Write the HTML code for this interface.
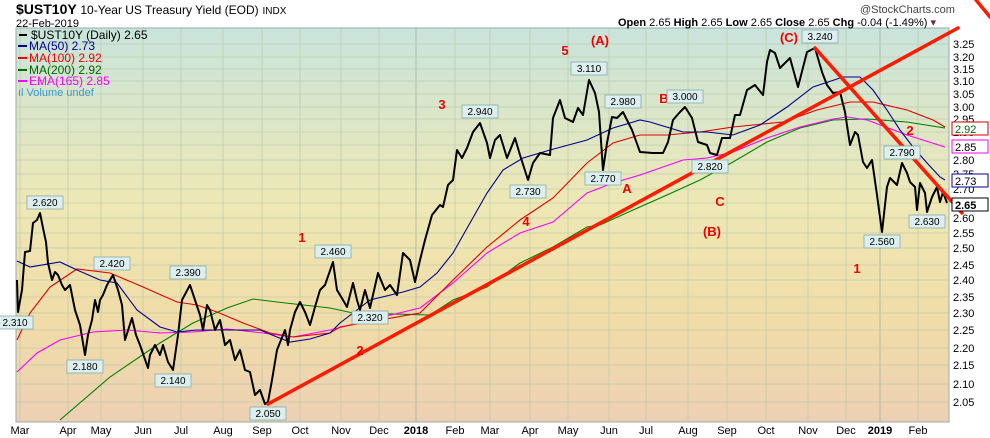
<!DOCTYPE html><html><head><meta charset="utf-8"><style>body{margin:0;background:#fff}svg{display:block;font-family:"Liberation Sans",sans-serif}</style></head><body>
<svg width="990" height="438" viewBox="0 0 990 438">
<defs><linearGradient id="bg" x1="0" y1="0" x2="0" y2="1"><stop offset="0" stop-color="#c9e4dc"/><stop offset="0.45" stop-color="#eee8b4"/><stop offset="0.75" stop-color="#f0dca8"/><stop offset="1" stop-color="#edd0b4"/></linearGradient></defs>
<rect x="16" y="28" width="933" height="394" fill="url(#bg)" stroke="#9aa" stroke-width="1"/>
<g stroke="#b9c7a8" stroke-width="0.8" opacity="0.8">
<line x1="20" y1="28" x2="20" y2="422"/><line x1="68" y1="28" x2="68" y2="422"/><line x1="101" y1="28" x2="101" y2="422"/><line x1="143" y1="28" x2="143" y2="422"/><line x1="181" y1="28" x2="181" y2="422"/><line x1="223" y1="28" x2="223" y2="422"/><line x1="262" y1="28" x2="262" y2="422"/><line x1="300" y1="28" x2="300" y2="422"/><line x1="341" y1="28" x2="341" y2="422"/><line x1="379" y1="28" x2="379" y2="422"/><line x1="416" y1="28" x2="416" y2="422" stroke="#9aa89a"/><line x1="455" y1="28" x2="455" y2="422"/><line x1="490" y1="28" x2="490" y2="422"/><line x1="530" y1="28" x2="530" y2="422"/><line x1="568" y1="28" x2="568" y2="422"/><line x1="609" y1="28" x2="609" y2="422"/><line x1="646" y1="28" x2="646" y2="422"/><line x1="688" y1="28" x2="688" y2="422"/><line x1="727" y1="28" x2="727" y2="422"/><line x1="766" y1="28" x2="766" y2="422"/><line x1="808" y1="28" x2="808" y2="422"/><line x1="846" y1="28" x2="846" y2="422"/><line x1="880" y1="28" x2="880" y2="422" stroke="#9aa89a"/><line x1="918" y1="28" x2="918" y2="422"/>
<line x1="16" y1="44" x2="949" y2="44"/><line x1="16" y1="57" x2="949" y2="57"/><line x1="16" y1="69" x2="949" y2="69"/><line x1="16" y1="81" x2="949" y2="81"/><line x1="16" y1="94" x2="949" y2="94"/><line x1="16" y1="107" x2="949" y2="107"/><line x1="16" y1="119" x2="949" y2="119"/><line x1="16" y1="132" x2="949" y2="132"/><line x1="16" y1="145" x2="949" y2="145"/><line x1="16" y1="160" x2="949" y2="160"/><line x1="16" y1="174" x2="949" y2="174"/><line x1="16" y1="189" x2="949" y2="189"/><line x1="16" y1="203" x2="949" y2="203"/><line x1="16" y1="218" x2="949" y2="218"/><line x1="16" y1="233" x2="949" y2="233"/><line x1="16" y1="248" x2="949" y2="248"/><line x1="16" y1="265" x2="949" y2="265"/><line x1="16" y1="280" x2="949" y2="280"/><line x1="16" y1="297" x2="949" y2="297"/><line x1="16" y1="313" x2="949" y2="313"/><line x1="16" y1="330" x2="949" y2="330"/><line x1="16" y1="348" x2="949" y2="348"/><line x1="16" y1="365" x2="949" y2="365"/><line x1="16" y1="384" x2="949" y2="384"/><line x1="16" y1="402" x2="949" y2="402"/>
</g>
<g fill="none" stroke-width="1.1">
<polyline stroke="#008000" points="60,420 110,377 160,343 193,323 227,308 253,299 277,302 330,308 353,313 430,315 453,300 487,287 520,263 553,247 587,227 600,225 633,210 667,195 700,180 733,162 767,142 800,128 833,120 867,119 907,122 945,128"/>
<polyline stroke="#ff00ff" points="17,372 37,353 60,340 93,332 127,330 160,333 193,332 227,329 263,333 293,337 330,330 370,320 420,308 453,283 487,253 520,233 553,222 587,193 613,183 640,175 683,160 707,158 733,152 767,138 800,127 833,119 847,117 867,120 907,135 945,147"/>
<polyline stroke="#e00000" points="17,340 30,313 50,287 77,269 110,273 143,287 177,302 197,305 217,312 243,323 270,333 293,337 330,333 340,327 420,313 453,280 487,247 520,220 553,198 587,163 613,143 640,135 667,135 700,132 733,127 783,122 817,110 850,102 873,102 907,110 933,120 945,127"/>
<polyline stroke="#000090" points="17,261 30,267 60,262 77,270 100,280 117,283 137,310 160,327 177,332 197,330 227,330 260,330 277,337 290,342 310,339 330,333 340,323 370,300 403,292 420,287 437,273 453,253 470,223 487,193 503,170 523,158 550,150 587,140 613,128 640,120 650,122 683,132 707,132 733,135 760,125 787,107 813,87 843,77 860,77 873,90 887,110 900,130 913,147 927,163 940,177 945,180"/>
</g>
<polyline fill="none" stroke="#000" stroke-width="2" stroke-linejoin="round" points="17,280 18,312 22,290 25,252 30,251 33,223 37,220 40,213 43,228 46,242 48,263 52,280 55,272 58,275 62,285 65,290 70,285 75,310 80,325 85,355 88,335 92,320 95,300 98,312 100,300 103,295 107,285 113,275 118,290 122,305 125,340 132,318 136,335 140,345 148,368 150,355 155,345 160,355 163,345 168,362 173,370 178,335 182,300 190,285 195,300 200,315 203,330 207,305 210,310 215,330 220,320 225,345 230,340 235,360 240,350 245,370 250,372 255,395 260,390 265,404 268,402 272,380 277,350 283,335 285,330 288,345 290,330 295,312 300,302 305,312 310,325 315,307 320,290 325,285 333,262 337,290 343,300 347,307 353,283 357,300 360,310 365,290 370,308 378,273 385,290 390,285 397,295 403,253 410,260 415,282 420,260 425,240 432,215 440,205 443,207 448,185 453,180 457,150 462,158 467,148 473,132 480,123 487,143 490,158 495,140 500,135 507,158 515,138 520,155 528,180 533,163 540,153 550,155 553,118 560,100 565,118 573,122 578,108 583,115 589,80 595,93 599,112 603,170 607,143 612,117 617,118 623,112 632,130 640,152 653,153 663,153 668,142 673,120 680,112 685,107 692,118 698,142 707,145 710,153 717,155 722,138 730,138 735,115 740,115 747,90 755,85 763,95 767,62 770,50 775,53 780,68 790,58 798,87 807,52 815,48 822,72 827,85 833,93 840,92 845,112 850,145 855,132 858,135 863,162 867,168 872,160 877,195 882,232 887,187 890,178 897,185 902,163 907,173 910,182 915,187 917,210 920,183 925,193 927,212 932,197 937,187 940,202 943,192 947,203"/>
<g stroke="#ff1a00" stroke-width="3.5" stroke-linecap="round">
<line x1="268" y1="404" x2="958" y2="28"/><line x1="815" y1="48" x2="962" y2="213"/><line x1="976" y1="0" x2="990" y2="17"/></g>
<g font-size="13" font-weight="bold" fill="#f00000" text-anchor="middle">
<text x="565" y="55">5</text><text x="600" y="45">(A)</text><text x="442" y="109">3</text><text x="302" y="242">1</text><text x="360" y="355">2</text><text x="526" y="226">4</text><text x="627" y="193">A</text><text x="664" y="103">B</text><text x="720" y="206">C</text><text x="712" y="236">(B)</text><text x="789" y="42">(C)</text><text x="857" y="273">1</text><text x="910" y="135">2</text></g>
<g font-size="10" text-anchor="middle">
<g fill="#ddeeee" stroke="#8aa" stroke-width="0.8">
<rect x="27" y="196" width="36" height="13"/><rect x="94" y="257" width="36" height="13"/><rect x="-3" y="316" width="36" height="13"/><rect x="67" y="360" width="36" height="13"/><rect x="170" y="266" width="36" height="13"/><rect x="155" y="374" width="36" height="13"/><rect x="250" y="407" width="36" height="13"/><rect x="315" y="245" width="36" height="13"/><rect x="352" y="311" width="36" height="13"/><rect x="462" y="105" width="36" height="13"/><rect x="510" y="185" width="36" height="13"/><rect x="571" y="62" width="36" height="13"/><rect x="585" y="172" width="36" height="13"/><rect x="605" y="95" width="36" height="13"/><rect x="667" y="90" width="36" height="13"/><rect x="692" y="160" width="36" height="13"/><rect x="802" y="30" width="36" height="13"/><rect x="884" y="146" width="36" height="13"/><rect x="864" y="235" width="36" height="13"/><rect x="909" y="215" width="36" height="13"/></g>
<g fill="#000">
<text x="45" y="206">2.620</text><text x="112" y="267">2.420</text><text x="15" y="326">2.310</text><text x="85" y="370">2.180</text><text x="188" y="276">2.390</text><text x="173" y="384">2.140</text><text x="268" y="417">2.050</text><text x="333" y="255">2.460</text><text x="370" y="321">2.320</text><text x="480" y="115">2.940</text><text x="528" y="195">2.730</text><text x="589" y="72">3.110</text><text x="603" y="182">2.770</text><text x="623" y="105">2.980</text><text x="685" y="100">3.000</text><text x="710" y="170">2.820</text><text x="820" y="40">3.240</text><text x="902" y="156">2.790</text><text x="882" y="245">2.560</text><text x="927" y="225">2.630</text></g></g>
<g font-size="11" fill="#000">
<text x="953" y="48">3.25</text><text x="953" y="61">3.20</text><text x="953" y="73">3.15</text><text x="953" y="85">3.10</text><text x="953" y="98">3.05</text><text x="953" y="111">3.00</text><text x="953" y="123">2.95</text><text x="953" y="136">2.90</text><text x="953" y="149">2.85</text><text x="953" y="164">2.80</text><text x="953" y="178">2.75</text><text x="953" y="193">2.70</text><text x="953" y="222">2.60</text><text x="953" y="237">2.55</text><text x="953" y="252">2.50</text><text x="953" y="269">2.45</text><text x="953" y="284">2.40</text><text x="953" y="301">2.35</text><text x="953" y="317">2.30</text><text x="953" y="334">2.25</text><text x="953" y="352">2.20</text><text x="953" y="369">2.15</text><text x="953" y="388">2.10</text><text x="953" y="406">2.05</text>
<rect x="952" y="122" width="36" height="13" fill="#fff" stroke="#c00"/><text x="955" y="133" fill="#060">2.92</text>
<rect x="952" y="140" width="36" height="13" fill="#fff" stroke="#f0f"/><text x="955" y="151">2.85</text>
<rect x="952" y="174" width="36" height="13" fill="#fff" stroke="#008"/><text x="955" y="185">2.73</text>
<rect x="952" y="198" width="36" height="13" fill="#fff" stroke="#000"/><text x="955" y="209" font-weight="bold">2.65</text>
</g>
<g font-size="11" fill="#000" text-anchor="middle">
<text x="20" y="434">Mar</text><text x="68" y="434">Apr</text><text x="101" y="434">May</text><text x="143" y="434">Jun</text><text x="181" y="434">Jul</text><text x="223" y="434">Aug</text><text x="262" y="434">Sep</text><text x="300" y="434">Oct</text><text x="341" y="434">Nov</text><text x="379" y="434">Dec</text><text x="416" y="434" font-weight="bold">2018</text><text x="455" y="434">Feb</text><text x="490" y="434">Mar</text><text x="530" y="434">Apr</text><text x="568" y="434">May</text><text x="609" y="434">Jun</text><text x="646" y="434">Jul</text><text x="688" y="434">Aug</text><text x="727" y="434">Sep</text><text x="766" y="434">Oct</text><text x="808" y="434">Nov</text><text x="846" y="434">Dec</text><text x="880" y="434" font-weight="bold">2019</text><text x="918" y="434">Feb</text></g>
<text x="16" y="14" font-size="14" font-weight="bold">$UST10Y <tspan font-weight="normal" font-size="12">10-Year US Treasury Yield (EOD)</tspan> <tspan font-weight="normal" font-size="10">INDX</tspan></text>
<text x="16" y="27" font-size="11">22-Feb-2019</text>
<text x="860" y="13" font-size="11" fill="#444">@StockCharts.com</text>
<text x="618" y="26" font-size="11"><tspan font-weight="bold">Open</tspan> 2.65  <tspan font-weight="bold">High</tspan> 2.65  <tspan font-weight="bold">Low</tspan> 2.65  <tspan font-weight="bold">Close</tspan> 2.65  <tspan font-weight="bold">Chg</tspan> -0.04 (-1.49%) <tspan fill="#802040">▾</tspan></text>
<g font-size="12">
<line x1="19" y1="35" x2="27" y2="35" stroke="#000" stroke-width="2"/><text x="31" y="39">$UST10Y (Daily) 2.65</text>
<line x1="18" y1="46" x2="27" y2="46" stroke="#000090" stroke-width="2"/><text x="29" y="50" fill="#000090">MA(50) 2.73</text>
<line x1="18" y1="58" x2="27" y2="58" stroke="#e00" stroke-width="2"/><text x="29" y="62" fill="#e00">MA(100) 2.92</text>
<line x1="18" y1="70" x2="27" y2="70" stroke="#060" stroke-width="2"/><text x="29" y="74" fill="#060">MA(200) 2.92</text>
<line x1="18" y1="81" x2="27" y2="81" stroke="#f0f" stroke-width="2"/><text x="29" y="85" fill="#f0f">EMA(165) 2.85</text>
<text x="18" y="96" fill="#3a9ad0" font-size="11">ıl Volume undef</text></g>
</svg></body></html>
